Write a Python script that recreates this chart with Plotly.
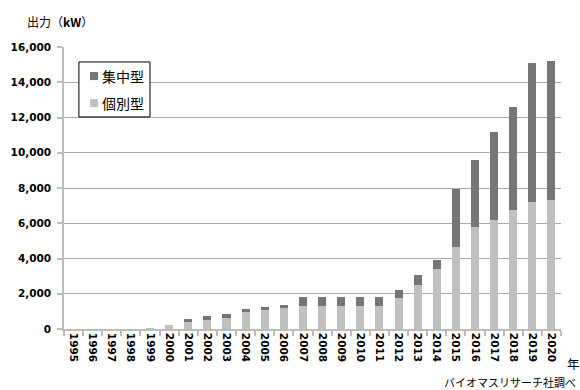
import plotly.graph_objects as go

years = [str(y) for y in range(1995, 2021)]

# 個別型 (individual) output, kW
kobetsu = [0, 0, 0, 0, 30, 220, 400, 530, 640, 960, 1080, 1170, 1310,
           1330, 1330, 1330, 1330, 1750, 2520, 3400, 4640, 5800, 6210,
           6760, 7230, 7310]

# 集中型 (centralised) output, kW
shuchu = [0, 0, 0, 0, 0, 0, 170, 190, 190, 175, 170, 190, 490,
          470, 470, 470, 470, 490, 530, 500, 3310, 3780, 4940,
          5840, 7870, 7890]

series_names = ["集中型", "個別型"]

y_ticks = list(range(0, 16001, 2000))
y_tick_text = [f"{v:,}" for v in y_ticks]

DARK = "#767676"
LIGHT = "#c0c0c0"
GRID = "#ababab"
AXIS = "#bcbcbc"
TICK_FONT = dict(family="DejaVu Sans", size=10.5, color="#000000", weight="bold")
CJK = "Noto Sans CJK JP"

fig = go.Figure()
fig.add_trace(go.Bar(x=years, y=kobetsu, name=series_names[1],
                     marker=dict(color=LIGHT, line=dict(width=0))))
fig.add_trace(go.Bar(x=years, y=shuchu, name=series_names[0],
                     marker=dict(color=DARK, line=dict(width=0))))

# Compact boxed key in the upper-left of the plot area
key_box = dict(type="rect", xref="paper", yref="paper",
               x0=0.030, x1=0.173, y0=0.752, y1=0.947,
               line=dict(color="#000000", width=1), fillcolor="#ffffff",
               layer="above")
key_rows = [(series_names[0], DARK, 0.897), (series_names[1], LIGHT, 0.801)]
shapes = [key_box]
annotations = []
for label, colour, yrow in key_rows:
    shapes.append(dict(type="rect", xref="paper", yref="paper",
                       x0=0.0523, x1=0.0684, y0=yrow - 0.0142, y1=yrow + 0.0142,
                       line=dict(width=0), fillcolor=colour, layer="above"))
    annotations.append(dict(text=label, xref="paper", yref="paper",
                            x=0.072, y=yrow, xanchor="left", yanchor="middle",
                            showarrow=False,
                            font=dict(family=CJK, size=14, color="#000000")))

annotations += [
    dict(text="出力（<b>kW</b>）", xref="paper", yref="paper",
         x=-0.078, y=1.09, xanchor="left", yanchor="middle",
         showarrow=False,
         font=dict(family=CJK, size=12, color="#000000")),
    dict(text="年", xref="paper", yref="paper",
         x=1.0, y=-0.124, xanchor="left", yanchor="middle", xshift=4,
         showarrow=False,
         font=dict(family=CJK, size=12.5, color="#000000")),
    dict(text="バイオマスリサーチ社調べ", xref="paper", yref="paper",
         x=1.0, y=-0.187, xanchor="right", yanchor="middle", xshift=17,
         showarrow=False,
         font=dict(family=CJK, size=11, color="#000000")),
]

fig.update_layout(
    width=580, height=390, autosize=False,
    margin=dict(l=64, r=19, t=47, b=61),
    barmode="stack", bargap=0.58,
    plot_bgcolor="#ffffff", paper_bgcolor="#ffffff",
    showlegend=False,
    xaxis=dict(
        type="category", tickangle=90, tickfont=TICK_FONT,
        showline=True, linecolor=AXIS, linewidth=1.5,
        ticks="outside", ticklen=5, tickcolor=AXIS, tickwidth=1.5,
        tickson="boundaries", showgrid=False,
    ),
    yaxis=dict(
        range=[0, 16000], tickvals=y_ticks, ticktext=y_tick_text,
        tickfont=TICK_FONT, ticklabelstandoff=4,
        showline=True, linecolor=AXIS, linewidth=1.5,
        ticks="outside", ticklen=5, tickcolor=AXIS, tickwidth=1.5,
        showgrid=True, gridcolor=GRID, gridwidth=1.2,
        zeroline=False,
    ),
    shapes=shapes,
    annotations=annotations,
)

fig.write_html("out.html")
